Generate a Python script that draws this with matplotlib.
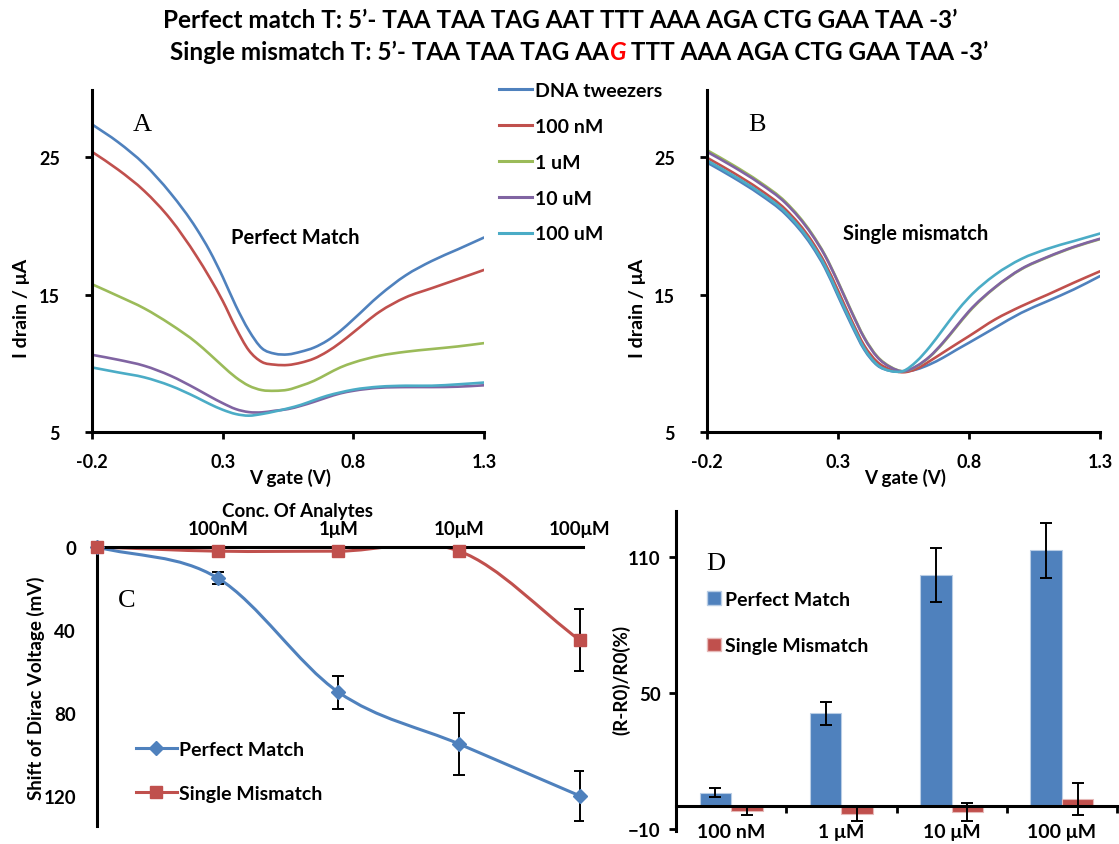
import numpy as np
import matplotlib
matplotlib.use("Agg")
import matplotlib.pyplot as plt
from matplotlib.path import Path
from matplotlib.patches import PathPatch, Patch
from matplotlib.lines import Line2D
from matplotlib.offsetbox import TextArea, HPacker, AnchoredOffsetbox

plt.rcParams["font.family"] = ["Lato", "DejaVu Sans"]
plt.rcParams["font.weight"] = "bold"

# ---------------- data ----------------
series_labels = ["DNA tweezers", "100 nM", "1 uM", "10 uM", "100 uM"]
series_colors = ["#4F81BD", "#C0504D", "#9BBB59", "#8064A2", "#4BACC6"]

# gate voltage (V) at which the transfer curves are sampled
vgate = [-0.2, -0.1, 0.0, 0.1, 0.2, 0.25, 0.3, 0.35, 0.4, 0.45, 0.5,
         0.55, 0.6, 0.65, 0.7, 0.75, 0.8, 0.9, 1.0, 1.1, 1.2, 1.3]

# Panel A: drain current (uA), perfect-match target
a_tweezers = [27.4, 26.1, 24.5, 22.4, 19.8, 18.2, 16.3, 14.2, 12.4, 11.1, 10.7,
              10.65, 10.85, 11.15, 11.65, 12.35, 13.2, 14.95, 16.4, 17.45, 18.3, 19.16]
a_100nM = [25.4, 24.1, 22.55, 20.5, 17.8, 16.25, 14.55, 12.6, 10.95, 10.1, 9.9,
           9.88, 10.05, 10.35, 10.85, 11.5, 12.25, 13.75, 14.8, 15.47, 16.13, 16.8]
a_1uM = [15.76, 14.9, 14.0, 12.85, 11.5, 10.67, 9.8, 8.98, 8.37, 8.05, 8.0,
         8.08, 8.37, 8.73, 9.22, 9.7, 10.05, 10.55, 10.84, 11.04, 11.23, 11.47]
a_10uM = [10.62, 10.26, 9.82, 9.1, 8.13, 7.6, 7.1, 6.67, 6.45, 6.43, 6.55,
          6.67, 6.91, 7.2, 7.52, 7.81, 8.0, 8.22, 8.27, 8.27, 8.3, 8.4]
a_100uM = [9.7, 9.34, 8.98, 8.37, 7.52, 7.04, 6.62, 6.31, 6.19, 6.31, 6.5,
           6.72, 6.98, 7.32, 7.64, 7.88, 8.08, 8.3, 8.37, 8.37, 8.47, 8.6]

# Panel B: drain current (uA), single-mismatch target
b_tweezers = [24.62, 23.53, 22.32, 20.85, 18.55, 16.95, 14.9, 12.85, 11.0, 9.85, 9.45,
              9.4, 9.56, 9.92, 10.4, 10.96, 11.5, 12.6, 13.68, 14.53, 15.38, 16.35]
b_100nM = [24.97, 23.88, 22.67, 21.2, 18.9, 17.3, 15.3, 13.2, 11.3, 10.1, 9.55,
           9.35, 9.6, 10.16, 10.77, 11.38, 11.98, 13.2, 14.16, 15.0, 15.87, 16.7]
b_1uM = [25.52, 24.43, 23.22, 21.75, 19.45, 17.9, 15.95, 13.85, 11.9, 10.5, 9.75,
         9.42, 9.78, 10.47, 11.45, 12.6, 13.74, 15.52, 16.85, 17.72, 18.45, 19.04]
b_10uM = [25.4, 24.32, 23.12, 21.66, 19.38, 17.85, 15.9, 13.8, 11.85, 10.45, 9.72,
          9.42, 9.8, 10.5, 11.5, 12.65, 13.8, 15.55, 16.88, 17.75, 18.48, 19.07]
b_100uM = [24.77, 23.68, 22.47, 21.0, 18.7, 17.1, 15.05, 13.0, 11.1, 9.9, 9.45,
           9.45, 10.15, 11.2, 12.45, 13.7, 14.8, 16.45, 17.6, 18.34, 18.9, 19.45]

# Panel C: Dirac voltage shift (mV)
conc_labels_c = ["100nM", "1\u03bcM", "10\u03bcM", "100\u03bcM"]
shift_perfect = [0, 15, 70, 95, 120]
shift_perfect_err = [0, 3, 8, 15, 12]
shift_mismatch = [0, 2, 2, 2, 45]
shift_mismatch_err = [0, 0, 0, 0, 15]

# Panel D: relative resistance change (%)
conc_labels_d = ["100 nM", "1 \u03bcM", "10 \u03bcM", "100 \u03bcM"]
resp_perfect = [6, 41, 102, 113]
resp_perfect_err = [2, 5, 12, 12]
resp_mismatch = [-2, -3.5, -2.5, 3]
resp_mismatch_err = [2, 3, 4, 7]

BLUE, RED = "#4F81BD", "#C0504D"

# ---------------- figure ----------------
W, H = 1119, 845
fig = plt.figure(figsize=(W / 100, H / 100), dpi=100)


def rect(x0, y0, x1, y1):
    return [x0 / W, 1 - y1 / H, (x1 - x0) / W, (y1 - y0) / H]


def fxy(x, y):
    return x / W, 1 - y / H


def smooth_path(x, y):
    """Smoothed line through the points: cubic Hermite segments written as Bezier curves,
    with slopes from three-point differences (works for uneven spacing)."""
    x = np.asarray(x, float)
    y = np.asarray(y, float)
    n = len(x)
    h = np.diff(x)
    d = np.diff(y) / h
    m = np.empty(n)
    m[0], m[-1] = d[0], d[-1]
    for i in range(1, n - 1):
        m[i] = (d[i - 1] * h[i] + d[i] * h[i - 1]) / (h[i - 1] + h[i])
    verts, codes = [(x[0], y[0])], [Path.MOVETO]
    for i in range(n - 1):
        verts += [(x[i] + h[i] / 3, y[i] + m[i] * h[i] / 3),
                  (x[i + 1] - h[i] / 3, y[i + 1] - m[i + 1] * h[i] / 3),
                  (x[i + 1], y[i + 1])]
        codes += [Path.CURVE4] * 3
    return Path(verts, codes)


def draw_smooth(ax, x, y, color, lw=1.9, z=2):
    ax.add_patch(PathPatch(smooth_path(x, y), fill=False, edgecolor=color,
                           lw=lw, capstyle="round", joinstyle="round", zorder=z))


# ---------- Panels A and B ----------
for (x0, x1), curves, letter, inner, inner_xy in [
    ((92, 484), [a_tweezers, a_100nM, a_1uM, a_10uM, a_100uM], "A", "Perfect Match", (295, 238)),
    ((707, 1100), [b_tweezers, b_100nM, b_1uM, b_10uM, b_100uM], "B", "Single mismatch", (916, 234)),
]:
    ax = fig.add_axes(rect(x0, 91, x1, 433))
    for yv, c in zip(curves, series_colors):
        draw_smooth(ax, vgate, yv, c)
    ax.set_xlim(-0.2, 1.3)
    ax.set_ylim(5, 29.9)
    ax.set_xticks([-0.2, 0.3, 0.8, 1.3])
    ax.set_xticklabels(["-0.2", "0.3", "0.8", "1.3"])
    ax.set_yticks([5, 15, 25])
    for s in ["top", "right"]:
        ax.spines[s].set_visible(False)
    for s in ["left", "bottom"]:
        ax.spines[s].set_linewidth(2.2)
    ax.tick_params(direction="out", length=5, width=2, labelsize=13)
    ax.tick_params(axis="x", pad=10)
    ax.tick_params(axis="y", pad=18)
    fig.text(*fxy(x0 + 50, 125), letter, family="Liberation Serif",
             fontweight="normal", fontsize=19, ha="center", va="center")
    fig.text(*fxy(*inner_xy), inner, fontsize=14.5, ha="center", va="center")
    fig.text(*fxy(x0 + 198, 478), "V gate (V)", fontsize=13.5, ha="center", va="center")
    fig.text(*fxy(x0 - 70, 308), "I drain / \u03bcA", fontsize=14, ha="center", va="center",
             rotation=90)

# legend shared by A and B
handles = [Line2D([], [], color=c, lw=2.2) for c in series_colors]
fig.legend(handles, series_labels, loc="upper left", bbox_to_anchor=fxy(499, 83),
           frameon=False, fontsize=14, handlelength=1.7, handletextpad=0.15,
           labelspacing=0.97, borderaxespad=0, borderpad=0)

# ---------- Panel C ----------
axC = fig.add_axes(rect(97, 548, 583, 827))
xc = np.arange(len(shift_perfect))
draw_smooth(axC, xc, shift_perfect, BLUE, lw=2.2)
draw_smooth(axC, xc, shift_mismatch, RED, lw=2.2)
mp = np.array(shift_perfect_err) > 0
axC.errorbar(xc[mp], np.array(shift_perfect)[mp], yerr=np.array(shift_perfect_err)[mp],
             fmt="none", ecolor="black", elinewidth=1.4, capsize=4, capthick=1.4, zorder=3)
mm = np.array(shift_mismatch_err) > 0
axC.errorbar(xc[mm], np.array(shift_mismatch)[mm], yerr=np.array(shift_mismatch_err)[mm],
             fmt="none", ecolor="black", elinewidth=1.4, capsize=4, capthick=1.4, zorder=3)
axC.plot(xc, shift_perfect, ls="none", marker="D", ms=7.5, color=BLUE, clip_on=False, zorder=4)
axC.plot(xc, shift_mismatch, ls="none", marker="s", ms=9, color=RED, clip_on=False, zorder=4)
axC.set_xlim(0, 4.025)
axC.set_ylim(134.5, 0)
axC.xaxis.tick_top()
axC.set_xticks(xc[1:])
axC.set_xticklabels(conc_labels_c)
axC.set_yticks([0, 40, 80, 120])
for s in ["bottom", "right"]:
    axC.spines[s].set_visible(False)
for s in ["top", "left"]:
    axC.spines[s].set_linewidth(2.2)
axC.tick_params(length=0, labelsize=13.5)
axC.tick_params(axis="x", pad=7)
axC.tick_params(axis="y", pad=15)
fig.text(*fxy(297, 512), "Conc. Of Analytes", fontsize=13.5, ha="center", va="center")
fig.text(*fxy(36, 688), "Shift of Dirac Voltage (mV)", fontsize=13.5, ha="center",
         va="center", rotation=90)
fig.text(*fxy(127, 601), "C", family="Liberation Serif",
         fontweight="normal", fontsize=19, ha="center", va="center")
hc = [Line2D([], [], color=BLUE, lw=2.2, marker="D", ms=7.5),
      Line2D([], [], color=RED, lw=2.2, marker="s", ms=9)]
axC.legend(hc, ["Perfect Match", "Single Mismatch"], loc="upper left",
           bbox_to_anchor=fxy(136, 742), bbox_transform=fig.transFigure, frameon=False,
           fontsize=14, handlelength=2.1, handletextpad=0.1, labelspacing=1.4,
           borderaxespad=0, borderpad=0)

# ---------- Panel D ----------
axD = fig.add_axes(rect(676, 512, 1117, 832))
xd = np.arange(len(resp_perfect)) + 0.5
bw = 0.285
ekw = dict(ecolor="black", elinewidth=1.4, capsize=4, capthick=1.4)
axD.bar(xd - bw / 2, resp_perfect, bw, color=BLUE, edgecolor="#B9CDE5", lw=0.8,
        yerr=resp_perfect_err, error_kw=ekw)
axD.bar(xd + bw / 2, resp_mismatch, bw, color=RED, edgecolor="#E6B9B8", lw=0.8,
        yerr=resp_mismatch_err, error_kw=ekw)
axD.set_xlim(0, 4)
axD.set_ylim(-11, 130.4)
axD.spines["bottom"].set_position(("data", 0))
for s in ["top", "right"]:
    axD.spines[s].set_visible(False)
for s in ["left", "bottom"]:
    axD.spines[s].set_linewidth(2.2)
axD.set_yticks([-10, 50, 110])
axD.set_xticks(xd)
axD.set_xticklabels(conc_labels_d)
axD.set_xticks([1, 2, 3, 4], minor=True)
axD.tick_params(axis="x", which="major", length=0, pad=12, labelsize=14)
axD.tick_params(axis="x", which="minor", direction="out", length=5, width=2)
axD.tick_params(axis="y", direction="out", length=5, width=2, labelsize=13.5, pad=6)
fig.text(*fxy(621, 680), "(R-R0)/R0(%)", fontsize=13.5, ha="center", va="center",
         rotation=90)
fig.text(*fxy(716, 564), "D", family="Liberation Serif",
         fontweight="normal", fontsize=19, ha="center", va="center")
hd = [Patch(facecolor=BLUE, edgecolor="#B9CDE5"), Patch(facecolor=RED, edgecolor="#E6B9B8")]
axD.legend(hd, ["Perfect Match", "Single Mismatch"], loc="upper left",
           bbox_to_anchor=fxy(707, 592), bbox_transform=fig.transFigure, frameon=False,
           fontsize=14, handlelength=0.7, handleheight=0.7, handletextpad=0.25,
           labelspacing=1.5, borderaxespad=0, borderpad=0)

# ---------- Title ----------
fig.text(*fxy(560, 20), "Perfect match T: 5\u2019- TAA TAA TAG AAT TTT AAA AGA CTG GAA TAA -3\u2019",
         fontsize=17.5, ha="center", va="center")
tp = dict(fontsize=17.5, fontweight="bold")
line2 = HPacker(children=[
    TextArea("Single mismatch T: 5\u2019- TAA TAA TAG AA", textprops=tp),
    TextArea("G", textprops=dict(tp, color="red", style="italic")),
    TextArea(" TTT AAA AGA CTG GAA TAA -3\u2019", textprops=tp),
], sep=0, align="baseline")
box = AnchoredOffsetbox(loc="center", child=line2, frameon=False, pad=0, borderpad=0,
                        bbox_to_anchor=fxy(579, 52), bbox_transform=fig.transFigure)
fig.add_artist(box)

fig.savefig("out.png", dpi=100)
